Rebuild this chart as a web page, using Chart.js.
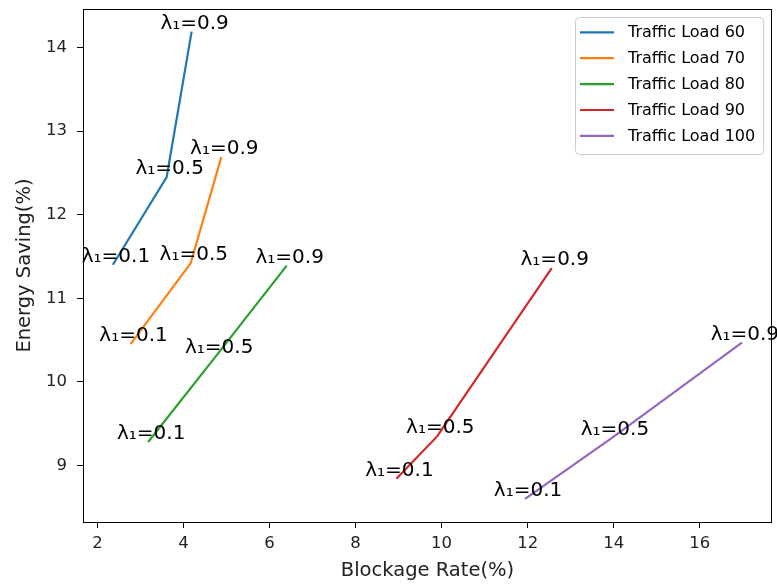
<!DOCTYPE html>
<html>
<head>
<meta charset="utf-8">
<script src="https://cdn.jsdelivr.net/npm/chart.js@4.4.1/dist/chart.umd.min.js"></script>
<style>
  html, body { margin: 0; padding: 0; background: #fff; }
  #grafico { display: block; }
</style>
</head>
<body>
<canvas id="grafico" width="777" height="584"></canvas>
<script>
// pontos de cada carga: lambda = 0.1, 0.5, 0.9
var rotulosLambda = ['λ₁=0.1', 'λ₁=0.5', 'λ₁=0.9'];
var cargas = ['Traffic Load 60', 'Traffic Load 70', 'Traffic Load 80', 'Traffic Load 90', 'Traffic Load 100'];

var bloqueio60 = [2.36, 3.61, 4.19];
var economia60 = [11.40, 12.45, 14.19];
var bloqueio70 = [2.77, 4.17, 4.88];
var economia70 = [10.45, 11.42, 12.69];
var bloqueio80 = [3.18, 4.76, 6.40];
var economia80 = [9.28, 10.31, 11.39];
var bloqueio90 = [8.95, 9.90, 12.56];
var economia90 = [8.84, 9.35, 11.36];
var bloqueio100 = [11.94, 13.96, 16.98];
var economia100 = [8.60, 9.33, 10.47];

var ticksX = [2, 4, 6, 8, 10, 12, 14, 16];
var ticksY = [9, 10, 11, 12, 13, 14];

var cores = ['#1f77b4', '#ff7f0e', '#2ca02c', '#d62728', '#9467bd'];
var fonte = "'DejaVu Sans', 'Liberation Sans', sans-serif";

function pontos(xs, ys) {
    return xs.map((x, i) => ({ x: x, y: ys[i] }));
}

var series = [
    pontos(bloqueio60, economia60),
    pontos(bloqueio70, economia70),
    pontos(bloqueio80, economia80),
    pontos(bloqueio90, economia90),
    pontos(bloqueio100, economia100)
];

// moldura dos quatro lados, como no matplotlib
var moldura = {
    id: 'moldura',
    afterDatasetsDraw(chart) {
        var a = chart.chartArea;
        var ctx = chart.ctx;
        ctx.save();
        ctx.strokeStyle = '#000';
        ctx.lineWidth = 1;
        ctx.strokeRect(Math.round(a.left) + 0.5, Math.round(a.top) + 0.5,
            Math.round(a.right - a.left) - 1, Math.round(a.bottom - a.top));
        ctx.restore();
    }
};

// texto λ₁ em cima de cada ponto
var anotacoes = {
    id: 'anotacoes',
    afterDatasetsDraw(chart) {
        var ctx = chart.ctx;
        ctx.save();
        ctx.font = '20px ' + fonte;
        ctx.fillStyle = '#000';
        ctx.textAlign = 'center';
        ctx.textBaseline = 'alphabetic';
        chart.data.datasets.forEach((ds, i) => {
            chart.getDatasetMeta(i).data.forEach((p, j) => {
                ctx.fillText(rotulosLambda[j], p.x + 3, p.y - 3);
            });
        });
        ctx.restore();
    }
};

// legenda no canto superior direito
var legenda = {
    id: 'legenda',
    afterDraw(chart) {
        var ctx = chart.ctx;
        ctx.save();
        ctx.font = '16px ' + fonte;
        var larguraTexto = 0;
        chart.data.datasets.forEach(ds => {
            larguraTexto = Math.max(larguraTexto, ctx.measureText(ds.label).width);
        });
        var x0 = 575, y0 = 17, passo = 25.9;
        var w = 53 + larguraTexto + 8, h = 137;
        ctx.fillStyle = 'rgba(255,255,255,0.8)';
        ctx.strokeStyle = '#cccccc';
        ctx.lineWidth = 1;
        ctx.beginPath();
        ctx.roundRect(x0 + 0.5, y0 + 0.5, w, h, 4);
        ctx.fill();
        ctx.stroke();
        chart.data.datasets.forEach((ds, i) => {
            var y = 32.3 + i * passo;
            ctx.strokeStyle = ds.borderColor;
            ctx.lineWidth = 2.2;
            ctx.beginPath();
            ctx.moveTo(580, y);
            ctx.lineTo(614, y);
            ctx.stroke();
            ctx.fillStyle = '#000';
            ctx.textBaseline = 'middle';
            ctx.fillText(ds.label, 628, y + 1);
        });
        ctx.restore();
    }
};

var grafico = new Chart(document.getElementById('grafico').getContext('2d'), {
    type: 'line',
    data: {
        datasets: series.map((dados, i) => ({
            label: cargas[i],
            data: dados,
            borderColor: cores[i],
            backgroundColor: cores[i],
            borderWidth: 2.2,
            pointRadius: 0,
            tension: 0,
            fill: false
        }))
    },
    options: {
        responsive: false,
        animation: false,
        devicePixelRatio: 1,
        layout: { padding: { top: 9, right: 5, left: 0, bottom: 0 } },
        plugins: {
            legend: { display: false },
            tooltip: { enabled: false }
        },
        scales: {
            x: {
                type: 'linear',
                min: 1.665,
                max: 17.68,
                afterBuildTicks: s => { s.ticks = ticksX.map(v => ({ value: v })); },
                afterFit: s => { s.height = 62; s.paddingLeft = 0; s.paddingRight = 0; },
                grid: { display: true, drawOnChartArea: false, tickLength: 6, color: '#000' },
                border: { display: false },
                ticks: { color: '#222', padding: 6, font: { family: fonte, size: 16.5 } },
                title: {
                    display: true,
                    text: 'Blockage Rate(%)',
                    color: '#222',
                    font: { family: fonte, size: 19.5 },
                    padding: { top: 2, bottom: 1 }
                }
            },
            y: {
                type: 'linear',
                min: 8.323,
                max: 14.46,
                afterBuildTicks: s => { s.ticks = ticksY.map(v => ({ value: v })); },
                afterFit: s => { s.width = 83; s.paddingTop = 0; s.paddingBottom = 0; },
                grid: { display: true, drawOnChartArea: false, tickLength: 6, color: '#000' },
                border: { display: false },
                ticks: { color: '#222', padding: 10, font: { family: fonte, size: 16.5 } },
                title: {
                    display: true,
                    text: 'Energy Saving(%)',
                    color: '#222',
                    font: { family: fonte, size: 19.5 },
                    padding: { top: 13, bottom: 0 }
                }
            }
        }
    },
    plugins: [moldura, anotacoes, legenda]
});
</script>
</body>
</html>
